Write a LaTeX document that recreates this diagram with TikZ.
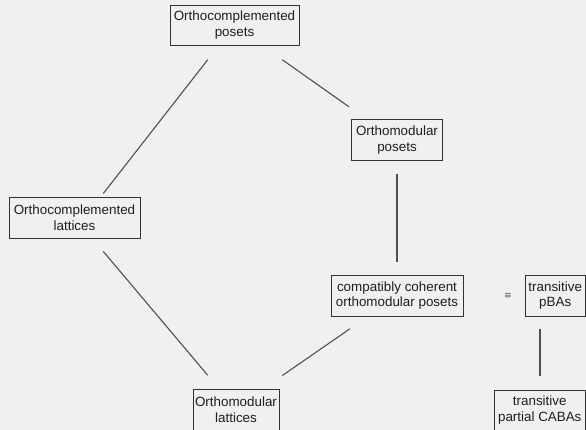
\documentclass[tikz,border=0pt]{standalone}
\usepackage{fontspec}
\setmainfont{Liberation Sans}
\newfontfamily\symfont{DejaVu Sans}
\usetikzlibrary{calc}
\definecolor{bg}{HTML}{F0F0F0}
\definecolor{boxline}{HTML}{333333}
\definecolor{edgecol}{HTML}{505050}
\definecolor{textcol}{HTML}{1E1E1E}
\begin{document}
\begin{tikzpicture}[x=1pt,y=-1pt,
  box/.style={draw=boxline, line width=0.9pt, inner sep=0pt, align=center,
    text=textcol, font=\fontsize{13.4}{15.5}\selectfont},
  edge/.style={draw=edgecol, line width=1.1pt}]
  % canvas
  \useasboundingbox (0,0) rectangle (586,430);
  \fill[bg] (0,0) rectangle (586,430);
  \clip (0,0) rectangle (586,430);

  % lattice of structures
  \node[box, minimum width=129pt, minimum height=40.5pt] (ocp) at (234.5,25.25) {Orthocomplemented\\posets};
  \node[box, minimum width=91pt, minimum height=41.4pt] (omp) at (397,140) {Orthomodular\\posets};
  \node[box, minimum width=131pt, minimum height=40.5pt] (ocl) at (74.5,217.75) {Orthocomplemented\\lattices};
  \node[box, minimum width=132pt, minimum height=41pt] (cco) at (397,295.5) {compatibly coherent\\orthomodular posets};
  \node[box, minimum width=86pt, minimum height=41pt] (oml) at (236,409.5) {Orthomodular\\lattices};
  \node[box, minimum width=60.5pt, minimum height=41pt] (tpba) at (555.25,295.5) {transitive\\pBAs};
  \node[box, minimum width=91.5pt, minimum height=40pt] (tcaba) at (539.75,410) {transitive\\partial CABAs};
  \node[text=edgecol, inner sep=0pt, font=\symfont\fontsize{9}{9}\selectfont] (iso) at (508,295.5) {≅};

  % connectors
  \draw[edge] ($(ocp.south)+(-26.8,13.8)$) -- ($(ocl.north)+(28.8,-3.5)$);
  \draw[edge] ($(ocp.south)+(47.8,13.8)$) -- ($(omp.north west)+(-2,-12)$);
  \draw[edge] ($(ocl.south)+(28.8,13)$) -- ($(oml.north)+(-28.3,-13.3)$);
  \draw[edge] ($(omp.south)+(0,12.6)$) -- ($(cco.north)+(0,-12.7)$);
  \draw[edge] ($(cco.south)+(-47,12.3)$) -- ($(oml.north)+(46.3,-13)$);
  \draw[edge] ($(tpba.south)+(-15.25,12.3)$) -- ($(tcaba.north)+(0.25,-14)$);
\end{tikzpicture}
\end{document}
